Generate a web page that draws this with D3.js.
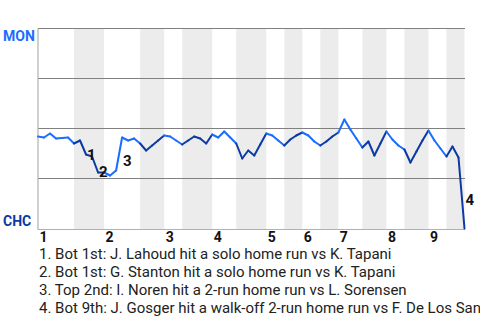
<!DOCTYPE html>
<html lang="en">
<head>
<meta charset="utf-8">
<title>Win probability</title>
<script src="https://cdn.jsdelivr.net/npm/d3@7"></script>
<style>
  html, body { margin: 0; padding: 0; background: #fff; overflow: hidden; }
  svg { display: block; font-family: Roboto, "Liberation Sans", sans-serif; }
</style>
</head>
<body>
<div id="chart"></div>
<script>
// MON win probability (%) after each plate appearance, index 0 = first pitch
var winProb = [46, 45.5, 47.5, 45, 45.3, 45.5, 42.5,
  44, 37, 36, 28, 28,
  26.5, 29, 45.5, 44, 45, 42.5,
  39, 41.5, 44, 46.5,
  46, 44, 42,
  44, 46, 45, 42.5, 47,
  45.5, 48.5, 45.5, 42.5,
  35, 39, 36.5, 42, 47.5,
  46.5, 44, 41.5,
  44.5, 46.5, 48,
  46.5, 43.5, 41.5,
  43.5, 46, 48,
  54.5, 49.5, 45, 40.5,
  43.5, 36.5, 42.5, 48.5,
  44.5, 41.5, 39.5,
  33, 38.5, 44, 49,
  44, 40, 36,
  41, 35.5, 0];

// plate appearances per half inning: [top, bottom]
var halfPAs = [[6, 5], [6, 4], [3, 5], [4, 5], [3, 3], [3, 3], [4, 4], [3, 4], [3, 3]];
var inningLabels = ["1", "2", "3", "4", "5", "6", "7", "8", "9"];
var teams = ["MON", "CHC"];
var gridTicks = [25, 50, 75, 100];

// key plays: plate appearance index + description
var playIdx = [8, 10, 14, 71];
var playText = [
  "Bot 1st: J. Lahoud hit a solo home run vs K. Tapani",
  "Bot 1st: G. Stanton hit a solo home run vs K. Tapani",
  "Top 2nd: I. Noren hit a 2-run home run vs L. Sorensen",
  "Bot 9th: J. Gosger hit a walk-off 2-run home run vs F. De Los Santos"
];

var W = 480, H = 320;
var m = {left: 38, right: 464.5, top: 28.5, bottom: 228.5};
var topColor = "#1a6dff", botColor = "#0b3aa4";

var svg = d3.select("#chart").append("svg")
  .attr("width", W).attr("height", H);

var x = d3.scaleLinear().domain([0, winProb.length - 1]).range([m.left, m.right]);
var y = d3.scaleLinear().domain([0, 100]).range([m.bottom, m.top]);

// half inning boundaries
var halves = [];
var pa = 0;
halfPAs.forEach(function(h, i) {
  halves.push({inning: i, half: "top", start: pa, end: pa + h[0]});
  pa += h[0];
  halves.push({inning: i, half: "bot", start: pa, end: pa + h[1]});
  pa += h[1];
});

// shaded bottom halves
svg.selectAll("rect.band")
  .data(halves.filter(function(d) { return d.half == "bot"; }))
  .enter().append("rect")
    .attr("x", function(d) { return x(d.start); })
    .attr("y", y(100))
    .attr("width", function(d) { return x(d.end) - x(d.start); })
    .attr("height", y(0) - y(100) + 1)
    .attr("fill", "#ececec");

// grid lines
svg.selectAll("line.grid")
  .data(gridTicks)
  .enter().append("line")
    .attr("x1", m.left).attr("x2", m.right + 0.5)
    .attr("y1", function(d) { return y(d); })
    .attr("y2", function(d) { return y(d); })
    .attr("stroke", "#808080").attr("stroke-width", 1.2);

// axis frame
svg.append("line")
  .attr("x1", m.left).attr("x2", m.right + 0.5)
  .attr("y1", y(0) + 1).attr("y2", y(0) + 1)
  .attr("stroke", "#b0b0b0").attr("stroke-width", 1.2);
svg.append("line")
  .attr("x1", m.left).attr("x2", m.left)
  .attr("y1", y(100)).attr("y2", y(0) + 1.5)
  .attr("stroke", "#b0b0b0").attr("stroke-width", 1.2);

// which half a plate appearance belongs to
function halfOf(i) {
  for (var k = 0; k < halves.length; k++) {
    if (i > halves[k].start && i <= halves[k].end) return halves[k].half;
  }
  return "top";
}

// line, one segment per plate appearance
var segs = d3.range(1, winProb.length).map(function(i) {
  return {a: i - 1, b: i, half: halfOf(i)};
});
svg.selectAll("line.seg")
  .data(segs)
  .enter().append("line")
    .attr("x1", function(d) { return x(d.a); })
    .attr("y1", function(d) { return y(winProb[d.a]); })
    .attr("x2", function(d) { return x(d.b); })
    .attr("y2", function(d) { return y(winProb[d.b]); })
    .attr("stroke", function(d) { return d.half == "top" ? topColor : botColor; })
    .attr("stroke-width", 2)
    .attr("stroke-linecap", "round");

// play markers
svg.selectAll("text.play")
  .data(playIdx)
  .enter().append("text")
    .attr("x", function(d) { return (x(d - 1) + x(d)) / 2 + 4; })
    .attr("y", function(d) { return (y(winProb[d - 1]) + y(winProb[d])) / 2 + 12; })
    .attr("font-size", 15).attr("font-weight", "bold").attr("fill", "#111")
    .text(function(d, i) { return i + 1; });

// team labels
svg.append("text").attr("x", 3).attr("y", 41)
  .attr("font-size", 14).attr("font-weight", "bold").attr("fill", topColor)
  .text(teams[0]);
svg.append("text").attr("x", 3).attr("y", 226)
  .attr("font-size", 14).attr("font-weight", "bold").attr("fill", botColor)
  .text(teams[1]);

// inning labels
svg.selectAll("text.inning")
  .data(halves.filter(function(d) { return d.half == "top"; }))
  .enter().append("text")
    .attr("x", function(d) { return x(d.start) + 1.5; })
    .attr("y", 241.5)
    .attr("font-size", 14).attr("font-weight", "bold").attr("fill", "#111")
    .text(function(d) { return inningLabels[d.inning]; });

// play list
svg.selectAll("text.desc")
  .data(playText)
  .enter().append("text")
    .attr("x", 39)
    .attr("y", function(d, i) { return 259 + i * 18; })
    .attr("font-size", 15).attr("fill", "#222")
    .text(function(d, i) { return (i + 1) + ". " + d; });
</script>
</body>
</html>
